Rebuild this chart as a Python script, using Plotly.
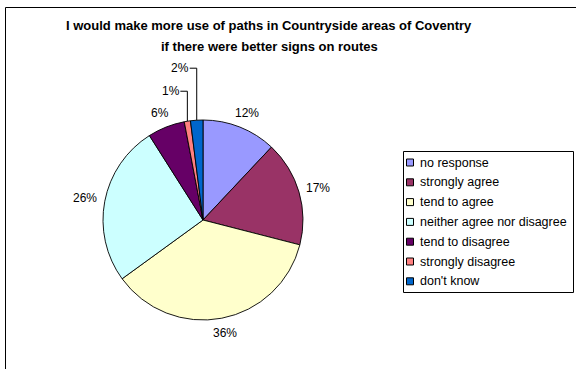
import math
import plotly.graph_objects as go

# Survey responses (percent of respondents)
categories = [
    "no response",
    "strongly agree",
    "tend to agree",
    "neither agree nor disagree",
    "tend to disagree",
    "strongly disagree",
    "don't know",
]
values = [12, 17, 36, 26, 6, 1, 2]
colors = ["#9999FF", "#993366", "#FFFFCC", "#CCFFFF", "#660066", "#FF8080", "#0066CC"]
title_lines = [
    "I would make more use of paths in Countryside areas of Coventry",
    "if there were better signs on routes",
]

W, H = 576, 369
FONT = "Liberation Sans, Arial, sans-serif"

# pie geometry in pixels
CX, CY, R = 203, 220, 100


def px(x):
    return x / W


def py(y):
    return 1 - y / H


fig = go.Figure(
    go.Pie(
        labels=categories,
        values=values,
        sort=False,
        direction="clockwise",
        rotation=0,
        marker=dict(colors=colors, line=dict(color="#000000", width=0.9)),
        textinfo="none",
        hoverinfo="label+percent",
        showlegend=False,
        domain=dict(x=[px(CX - R), px(CX + R)], y=[py(CY + R), py(CY - R)]),
    )
)

shapes = []
annotations = []

# chart frame
shapes.append(dict(
    type="rect", xref="paper", yref="paper",
    x0=px(5.5), x1=1.02, y0=-0.02, y1=py(7.5),
    line=dict(color="#000000", width=1), fillcolor="rgba(0,0,0,0)",
))

# title
for i, line in enumerate(title_lines):
    annotations.append(dict(
        text=f"<b>{line}</b>", xref="paper", yref="paper",
        x=px(269), y=py(26 + 20 * i), showarrow=False,
        font=dict(family=FONT, size=13, color="#000000"),
        xanchor="center", yanchor="middle",
    ))

# percentage labels around the pie, positioned from each slice's mid-angle
LABEL_SIZE = 12
total = sum(values)
cum = 0
small_k = 0
for v in values:
    mid = (cum + v / 2) / total * 2 * math.pi
    cum += v
    ux, uy = math.sin(mid), -math.cos(mid)
    text = f"{v}%"
    hw = LABEL_SIZE * (0.556 * (len(text) - 1) + 0.889) / 2
    if v >= 5:
        gap = 8
        lx = CX + (R + gap) * ux + hw * ux
        ly = CY + (R + gap) * uy + 7 * uy
        annotations.append(dict(
            text=text, xref="paper", yref="paper", x=px(lx), y=py(ly),
            showarrow=False, xanchor="center", yanchor="middle",
            font=dict(family=FONT, size=LABEL_SIZE, color="#000000"),
        ))
    else:
        # thin slices: label lifted above the pie with an elbow leader line
        ex, ey = CX + R * ux, CY + R * uy
        ty = ey - 30 - 22 * small_k
        small_k += 1
        hx = ex - 7
        shapes.append(dict(
            type="path", xref="paper", yref="paper",
            path=f"M {px(ex)},{py(ey)} L {px(ex)},{py(ty)} L {px(hx)},{py(ty)}",
            line=dict(color="#000000", width=1),
        ))
        annotations.append(dict(
            text=text, xref="paper", yref="paper", x=px(hx + 1.5), y=py(ty),
            showarrow=False, xanchor="right", yanchor="middle",
            font=dict(family=FONT, size=LABEL_SIZE, color="#000000"),
        ))

# legend box with one entry per category
LEG_X0, LEG_X1, LEG_Y0, LEG_Y1 = 403.5, 573.5, 151.5, 292.5
ROW0, ROW_STEP = 162.5, 19.8
shapes.append(dict(
    type="rect", xref="paper", yref="paper",
    x0=px(LEG_X0), x1=px(LEG_X1), y0=py(LEG_Y1), y1=py(LEG_Y0),
    line=dict(color="#000000", width=1), fillcolor="#FFFFFF", layer="below",
))
for i, (cat, col) in enumerate(zip(categories, colors)):
    yc = ROW0 + ROW_STEP * i
    shapes.append(dict(
        type="rect", xref="paper", yref="paper",
        x0=px(406.5), x1=px(413.5), y0=py(yc + 3.5), y1=py(yc - 3.5),
        line=dict(color="#000000", width=1), fillcolor=col,
    ))
    annotations.append(dict(
        text=cat, xref="paper", yref="paper", x=px(417.5), y=py(yc),
        showarrow=False, xanchor="left", yanchor="middle",
        font=dict(family=FONT, size=12.5, color="#000000"),
    ))

fig.update_layout(
    width=W, height=H,
    margin=dict(l=0, r=0, t=0, b=0),
    paper_bgcolor="#FFFFFF",
    plot_bgcolor="#FFFFFF",
    shapes=shapes,
    annotations=annotations,
)

fig.write_html("out.html")
